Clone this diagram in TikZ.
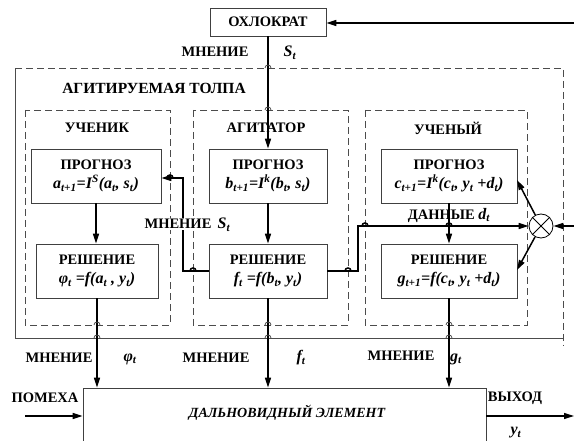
\documentclass[tikz,border=0pt]{standalone}
\usepackage{fontspec}
\setmainfont{Liberation Serif}
\usetikzlibrary{arrows.meta,positioning}
\newcommand{\sbs}[1]{\textsubscript{#1}}
\newcommand{\sps}[1]{\textsuperscript{#1}}
\newcommand{\fm}{\fontsize{16}{19}\selectfont\itshape}
% small jump of a horizontal line over a crossing
\newcommand{\hump}[3][line width=1.5pt]{\draw[#1] ({#2-3},#3) .. controls ({#2-3},{#3-4}) and ({#2+3},{#3-4}) .. ({#2+3},#3);}

\begin{document}
\begin{tikzpicture}[x=1pt,y=-1pt,
  blk/.style={draw=black!75,line width=0.7pt,minimum width=#1,minimum height=54pt,align=center,inner sep=1pt,
    font=\fontsize{14.5}{19}\selectfont\bfseries},
  blk/.default=120,
  lbl/.style={font=\fontsize{14.5}{16}\selectfont\bfseries,inner sep=1pt},
  frame/.style={draw=black!70,line width=0.8pt,dash pattern=on 7pt off 4pt},
  conn/.style={line width=1.5pt,-{Triangle[length=10pt,width=6pt]}},
  mixer/.style={draw,circle,line width=0.8pt,minimum size=24pt,inner sep=0pt}]
  \useasboundingbox (0,0) rectangle (574,441);
  \clip (0,0) rectangle (574,441);
  % Ochlocrat
  \node[blk=116,minimum height=28pt] (ohl) at (268,22) {ОХЛОКРАТ};
  \node[lbl] (opS1) at (215,52) {МНЕНИЕ};
  \node[lbl] (opS2) at (290,53) {\fm S\sbs{t}};
  % Crowd frame
  \draw[frame] (15,68) -- (563,68) -- (563,346);
  \draw[black!70,line width=0.8pt] (563,338) -- (15,338) -- (15,68);
  \node[lbl,font=\fontsize{15.5}{17}\selectfont\bfseries] (crowd) at (154,88) {АГИТИРУЕМАЯ ТОЛПА};
  \foreach \nm/\xa/\xb/\tx/\tl in {stud/25/170/97/УЧЕНИК,agit/193/348/266/АГИТАТОР,sci/365/527/448/УЧЕНЫЙ}{
    \draw[frame] (\xa,110) rectangle (\xb,325);
    \node[lbl] (\nm) at (\tx,128) {\tl};
  }
  % Student
  \node[blk=130] (sPr) at (96,176) {ПРОГНОЗ\\{\fm a\sbs{t+1}=I\sps{S}(a\sbs{t}, s\sbs{t})}};
  \node[blk=122] (sRe) at (97,271) {РЕШЕНИЕ\\{\fm φ\sbs{t} =f(a\sbs{t} , y\sbs{t})}};
  % Agitator
  \node[blk=118] (aPr) at (268,176) {ПРОГНОЗ\\{\fm b\sbs{t+1}=I\sps{k}(b\sbs{t}, s\sbs{t})}};
  \node[blk=118] (aRe) at (268,271) {РЕШЕНИЕ\\{\fm f\sbs{t} =f(b\sbs{t}, y\sbs{t})}};
  % Scientist
  \node[blk=136] (cPr) at (449,176) {ПРОГНОЗ\\{\fm c\sbs{t+1}=I\sps{k}(c\sbs{t}, y\sbs{t} +d\sbs{t})}};
  \node[blk=136] (cRe) at (449,271) {РЕШЕНИЕ\\{\fm g\sbs{t+1}=f(c\sbs{t}, y\sbs{t} +d\sbs{t})}};
  \node[mixer] (mix) at (541,226) {};
  \draw[line width=0.8pt] (mix.north west) -- (mix.south east) (mix.north east) -- (mix.south west);
  % Far-sighted element
  \node[draw=black!75,line width=0.7pt,minimum width=403pt,minimum height=72pt] (elem) at (284.5,424) {};
  \node[lbl,font=\fontsize{14}{16}\selectfont\bfseries] (elemtxt) at (287,413) {\itshape ДАЛЬНОВИДНЫЙ ЭЛЕМЕНТ};
  % Connectors
  \coordinate (fromtop) at (574,23);
  \draw[conn] (fromtop) -- (fromtop -| ohl.east);
  \draw[conn] (ohl.south) -- (aPr.north);
  \hump[black!70,line width=0.8pt]{268}{68}
  \hump[black!70,line width=0.8pt]{268}{110}
  \draw[conn] (sPr.south) -- (sPr.south |- sRe.north);
  \draw[conn] (aPr.south) -- (aRe.north);
  \draw[conn] (cPr.south) -- (cRe.north);
  \coordinate (kneeL) at (183,178);
  \draw[conn] (aRe.west) -| (kneeL) -- (kneeL -| sPr.east);
  \hump{170}{178}
  \hump{193}{271}
  \node[lbl,fill=white] (opM1) at (178,224) {МНЕНИЕ};
  \node[lbl] (opM2) at (224,225) {\fm S\sbs{t}};
  \coordinate (kneeR) at (358,226);
  \draw[conn] (aRe.east) -| (kneeR) -- (mix);
  \hump{348}{271}
  \hump{365}{226}
  \hump{449}{226}
  \node[lbl] (data) at (449,215) {ДАННЫЕ {\fm d\sbs{t}}};
  \coordinate (fromright) at (574,226);
  \draw[conn] (fromright) -- (mix);
  \coordinate (cPrIn) at (517,180);
  \coordinate (cReIn) at (517,270);
  \draw[conn] (mix) -- (cPrIn);
  \draw[conn] (mix) -- (cReIn);
  \foreach \b in {sRe,aRe,cRe}{
    \draw[conn] (\b.south) -- (\b.south |- elem.north);
  }
  \foreach \x in {97,268,449}{
    \hump[black!70,line width=0.8pt]{\x}{325}
    \hump[black!70,line width=0.8pt]{\x}{338}
  }
  % Opinions into the element
  \node[lbl] (opB1) at (59,358) {МНЕНИЕ};
  \node[lbl] (opB2) at (130,359) {\fm φ\sbs{t}};
  \node[lbl] (opB3) at (216,358) {МНЕНИЕ};
  \node[lbl] (opB4) at (301,358) {\fm f\sbs{t}};
  \node[lbl] (opB5) at (401,356) {МНЕНИЕ};
  \node[lbl] (opB6) at (456,359) {\fm g\sbs{t}};
  % Noise and output
  \node[lbl] (noiselbl) at (45,398) {ПОМЕХА};
  \coordinate (noise) at (25,416);
  \draw[conn] (noise) -- (noise -| elem.west);
  \node[lbl] (outlbl) at (515,398) {ВЫХОД};
  \coordinate (out) at (574,416);
  \draw[conn] (out -| elem.east) -- (out);
  \node[lbl] (outy) at (516,433) {\fm y\sbs{t}};
\end{tikzpicture}
\end{document}
